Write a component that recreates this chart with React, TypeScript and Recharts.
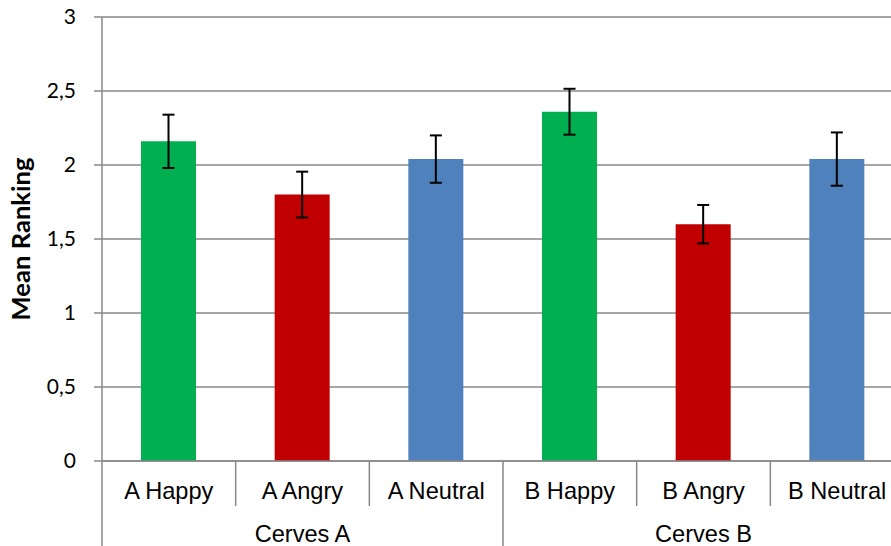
import { BarChart, Bar, XAxis, YAxis, CartesianGrid, ErrorBar, Cell } from "recharts";

const categories = ["A Happy", "A Angry", "A Neutral", "B Happy", "B Angry", "B Neutral"];
const groups = ["Cerves A", "Cerves A", "Cerves A", "Cerves B", "Cerves B", "Cerves B"];
const means = [2.16, 1.8, 2.04, 2.36, 1.6, 2.04];
const errors = [0.18, 0.155, 0.16, 0.155, 0.13, 0.18];
const yTicks = [0, 0.5, 1, 1.5, 2, 2.5, 3];

const COLORS = ["#00B050", "#C00000", "#4F81BD", "#00B050", "#C00000", "#4F81BD"];
const GRID = "#888888";

// layout
const CHART_W = 920;
const CHART_H = 546;
const Y_AXIS_W = 102;
const MARGIN = { top: 17, right: 16, left: 0, bottom: 0 };
const PLOT_W = CHART_W - Y_AXIS_W - MARGIN.left - MARGIN.right;
const BAND = PLOT_W / categories.length;

const data = categories.map((label, i) => ({
  label,
  group: groups[i],
  mean: means[i],
  err: errors[i],
}));

function CategoryTick(props: any) {
  const { x, y, payload, index } = props;
  const left = x - BAND / 2;
  const groupStart = index === 0 || groups[index] !== groups[index - 1];
  const groupMid = index % 3 === 1;
  return (
    <g>
      <line x1={left} y1={y} x2={left} y2={groupStart ? y + 90 : y + 45} stroke={GRID} strokeWidth={1.5} />
      <text
        x={x}
        y={y + 38}
        textAnchor="middle"
        fontFamily="'Liberation Sans', Arial, sans-serif"
        fontSize={23.6}
        fill="#000"
      >
        {payload.value}
      </text>
      {groupMid && (
        <text
          x={x}
          y={y + 81}
          textAnchor="middle"
          fontFamily="'Liberation Sans', Arial, sans-serif"
          fontSize={23.6}
          fill="#000"
        >
          {groups[index]}
        </text>
      )}
    </g>
  );
}

function YLabel(props: any) {
  const { viewBox } = props;
  const cx = 30;
  const cy = viewBox.y + viewBox.height / 2;
  return (
    <text
      x={cx}
      y={cy}
      transform={`rotate(-90, ${cx}, ${cy})`}
      textAnchor="middle"
      fontFamily="Lato, sans-serif"
      fontWeight="bold"
      fontSize={25.6}
      fill="#000"
    >
      Mean Ranking
    </text>
  );
}

export default function App() {
  return (
    <div style={{ position: "absolute", left: 0, top: 0, width: 891, height: 546, overflow: "hidden", background: "#fff" }}>
      <BarChart width={CHART_W} height={CHART_H} data={data} margin={MARGIN}>
        <CartesianGrid vertical={false} stroke={GRID} strokeWidth={1.5} />
        <XAxis
          dataKey="label"
          interval={0}
          height={85}
          tickLine={false}
          tickSize={0}
          tickMargin={0}
          axisLine={{ stroke: GRID, strokeWidth: 1.5 }}
          tick={<CategoryTick />}
        />
        <YAxis
          width={Y_AXIS_W}
          domain={[0, 3]}
          ticks={yTicks}
          interval={0}
          tickSize={8}
          tickMargin={18}
          tickLine={{ stroke: GRID, strokeWidth: 1.5 }}
          axisLine={{ stroke: GRID, strokeWidth: 1.5 }}
          tickFormatter={(v: number) => String(v).replace(".", ",")}
          tick={{ fontFamily: "Lato, sans-serif", fontSize: 21, fill: "#000" }}
          label={<YLabel />}
        />
        <Bar dataKey="mean" barSize={55} isAnimationActive={false}>
          {data.map((d, i) => (
            <Cell key={d.label} fill={COLORS[i]} />
          ))}
          <ErrorBar dataKey="err" width={6} strokeWidth={2} stroke="#000" />
        </Bar>
      </BarChart>
    </div>
  );
}
